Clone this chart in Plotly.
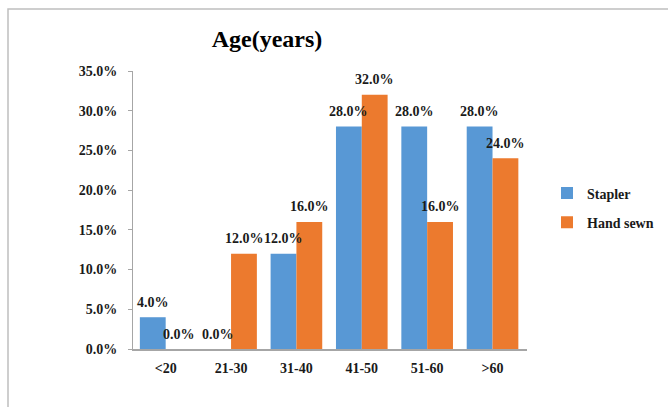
import plotly.graph_objects as go

categories = ["<20", "21-30", "31-40", "41-50", "51-60", ">60"]
stapler = [4.0, 0.0, 12.0, 28.0, 28.0, 28.0]
hand_sewn = [0.0, 12.0, 16.0, 32.0, 16.0, 24.0]
y_ticks = [0, 5, 10, 15, 20, 25, 30, 35]

FONT = "Liberation Serif"
W, H = 668, 407
L, R, T, B = 133, 527, 71, 349  # plot area edges in pixels
BARGAP = 0.21
bar_w = (R - L) / len(categories) * (1 - BARGAP) / 2

series = [
    ("Stapler", stapler, "#5898D5", -bar_w / 2),
    ("Hand sewn", hand_sewn, "#EC7A2E", bar_w / 2),
]

fig = go.Figure()
for name, values, color, dx in series:
    fig.add_trace(go.Bar(
        name=f"<b>{name}</b>",
        legendgroup=name,
        x=categories,
        y=[v / 100 for v in values],
        marker=dict(color=color, line=dict(width=0)),
        cliponaxis=False,
    ))
    # value labels floating above each bar
    for c, v in zip(categories, values):
        fig.add_annotation(
            x=c, y=v / 100, xref="x", yref="y",
            text=f"<b>{v:.1f}%</b>", showarrow=False,
            xshift=dx, yshift=15, yanchor="middle",
            font=dict(family=FONT, size=14, color="#1a1a1a"),
        )

fig.update_layout(
    width=W, height=H,
    margin=dict(l=L, r=W - R, t=T, b=H - B, pad=0, autoexpand=False),
    paper_bgcolor="white", plot_bgcolor="white",
    barmode="group", bargap=BARGAP, bargroupgap=0,
    font=dict(family=FONT, size=14, color="#1a1a1a"),
    title=dict(text="<b>Age(years)</b>", font=dict(family=FONT, size=24, color="black"),
               x=267 / W, xanchor="center", y=1 - 39 / H, yanchor="middle"),
    legend=dict(xref="container", yref="container", x=547 / W, xanchor="left",
                y=1 - 208 / H, yanchor="middle",
                font=dict(family=FONT, size=14), itemwidth=30,
                tracegroupgap=8, bgcolor="rgba(0,0,0,0)"),
    showlegend=True,
)

fig.update_yaxes(
    range=[0, 0.35], tickvals=[t / 100 for t in y_ticks],
    ticktext=[f"<b>{t:.1f}%</b>" for t in y_ticks],
    showgrid=False, zeroline=False,
    showline=True, linecolor="#A6A6A6", linewidth=1,
    ticks="outside", ticklen=4, tickcolor="#A6A6A6",
    ticklabelstandoff=8,
    tickfont=dict(family=FONT, size=14, color="#1a1a1a"),
)
fig.update_xaxes(
    showgrid=False, showline=True, linecolor="#A6A6A6", linewidth=1.5,
    ticks="", ticklabelstandoff=5,
    tickvals=categories, ticktext=[f"<b>{c}</b>" for c in categories],
    tickfont=dict(family=FONT, size=14, color="#1a1a1a"),
)

# Outer chart frame (top and left edges visible in the canvas)
fig.add_shape(type="rect", xref="paper", yref="paper",
              x0=(8 - L) / (R - L), x1=(W + 20 - L) / (R - L),
              y0=(B - (H + 20)) / (B - T), y1=(B - 9) / (B - T),
              line=dict(color="#BFBFBF", width=1.5), fillcolor="rgba(0,0,0,0)",
              layer="below")

fig.write_html("out.html")
